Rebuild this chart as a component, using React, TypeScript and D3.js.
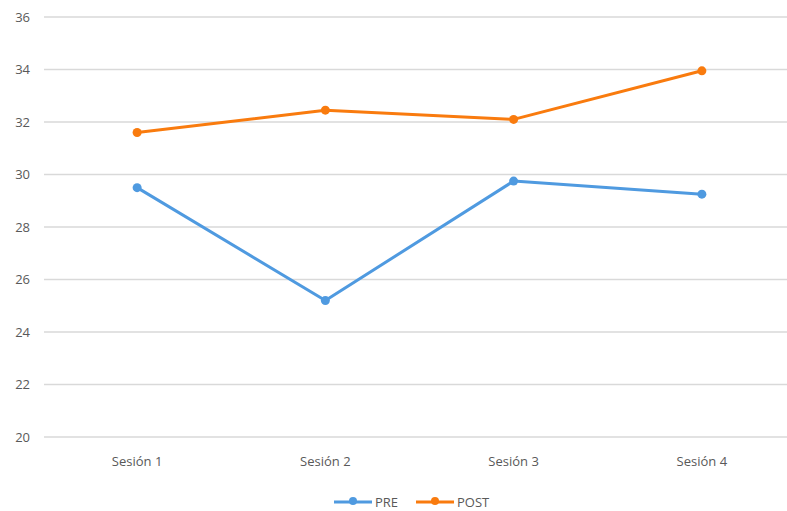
import React from "react";
import * as d3 from "d3";

const categories = ["Sesión 1", "Sesión 2", "Sesión 3", "Sesión 4"];
const preValues = [29.5, 25.2, 29.75, 29.25];
const postValues = [31.6, 32.45, 32.1, 33.95];
const yTicks = [20, 22, 24, 26, 28, 30, 32, 34, 36];
const seriesNames = ["PRE", "POST"];

const W = 787;
const H = 511;
const BLUE = "#4F9AE0";
const ORANGE = "#F97B0E";
const FONT = "'Open Sans', 'Liberation Sans', sans-serif";

export default function App() {
  const x = d3.scaleBand<string>().domain(categories).range([43, 796]);
  const y = d3.scaleLinear().domain([20, 36]).range([437, 17]);
  const line = d3
    .line<number>()
    .x((_, i) => (x(categories[i]) as number) + x.bandwidth() / 2)
    .y((d) => y(d));

  const series = [
    { name: seriesNames[0], values: preValues, color: BLUE },
    { name: seriesNames[1], values: postValues, color: ORANGE },
  ];

  const legendX = [334, 416];

  return (
    <svg
      width={W}
      height={H}
      style={{ position: "absolute", left: 0, top: 0, background: "#fff" }}
    >
      {yTicks.map((t) => (
        <g key={t}>
          <line x1={44} x2={W} y1={y(t)} y2={y(t)} stroke="#D9D9D9" strokeWidth={1.5} />
          <text
            x={30}
            y={y(t) + 4.5}
            textAnchor="end"
            fontFamily={FONT}
            fontSize={13}
            fill="#595959"
          >
            {t}
          </text>
        </g>
      ))}
      {categories.map((c) => (
        <text
          key={c}
          x={(x(c) as number) + x.bandwidth() / 2}
          y={466}
          textAnchor="middle"
          fontFamily={FONT}
          fontSize={13}
          fill="#595959"
        >
          {c}
        </text>
      ))}
      {series.map((s) => (
        <g key={s.name}>
          <path
            d={line(s.values) as string}
            fill="none"
            stroke={s.color}
            strokeWidth={3}
            strokeLinejoin="round"
            strokeLinecap="round"
          />
          {s.values.map((v, i) => (
            <circle
              key={i}
              cx={(x(categories[i]) as number) + x.bandwidth() / 2}
              cy={y(v)}
              r={4.5}
              fill={s.color}
            />
          ))}
        </g>
      ))}
      {series.map((s, i) => (
        <g key={"lg" + s.name}>
          <line
            x1={legendX[i]}
            x2={legendX[i] + 38}
            y1={502}
            y2={502}
            stroke={s.color}
            strokeWidth={3}
          />
          <circle cx={legendX[i] + 19} cy={501} r={4} fill={s.color} />
          <text
            x={legendX[i] + 41}
            y={507}
            fontFamily={FONT}
            fontSize={13}
            fill="#595959"
          >
            {s.name}
          </text>
        </g>
      ))}
    </svg>
  );
}
